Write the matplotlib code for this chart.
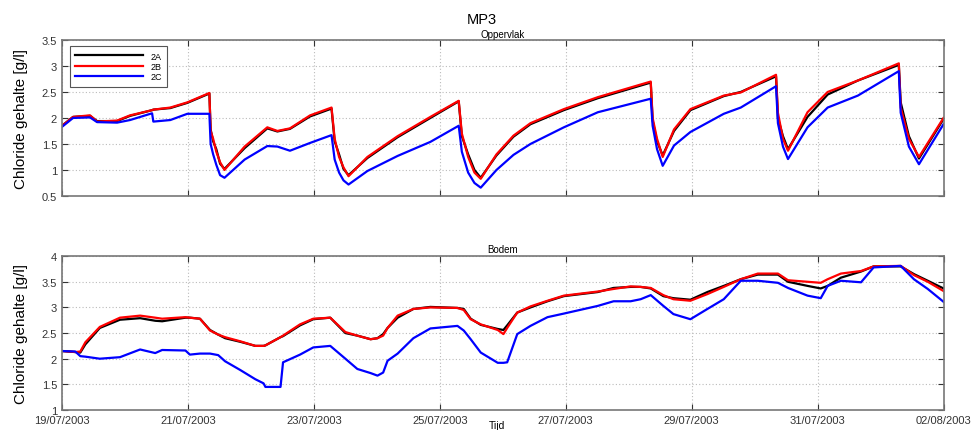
import matplotlib
matplotlib.use("Agg")
import matplotlib.pyplot as plt
import matplotlib.dates as mdates
import numpy as np
import pandas as pd

plt.rcParams['font.family'] = ['Liberation Sans', 'DejaVu Sans']

# ---- Oppervlak (surface) : days since 19/07/2003 00:00 ----
top_days = [0.00, 0.175, 0.445, 0.556, 0.874, 1.08, 1.43, 1.45, 1.72, 1.99,
            2.34, 2.36, 2.40, 2.45, 2.51, 2.58, 2.90, 3.26, 3.42, 3.62, 3.94,
            4.28, 4.33, 4.40, 4.47, 4.55, 4.85, 5.33, 5.85,
            6.30, 6.35, 6.45, 6.55, 6.65, 6.90, 7.17, 7.44, 7.97, 8.51,
            9.35, 9.38, 9.45, 9.54, 9.72, 9.98, 10.51, 10.78,
            11.34, 11.37, 11.45, 11.53, 11.84, 12.16, 12.64,
            13.29, 13.32, 13.45, 13.61, 14.00]
top_2a = [1.85, 2.02, 2.04, 1.94, 1.94, 2.04, 2.15, 2.16, 2.19, 2.29,
          2.47, 1.78, 1.55, 1.40, 1.12, 1.02, 1.42, 1.80, 1.74, 1.79, 2.03,
          2.18, 1.55, 1.30, 1.02, 0.90, 1.23, 1.63, 2.00,
          2.32, 1.65, 1.30, 1.00, 0.85, 1.28, 1.64, 1.88, 2.15, 2.38,
          2.68, 1.95, 1.55, 1.28, 1.75, 2.15, 2.42, 2.50,
          2.80, 2.00, 1.65, 1.40, 2.02, 2.45, 2.72,
          3.02, 2.30, 1.65, 1.22, 1.98]
top_2b = [1.85, 2.02, 2.05, 1.93, 1.95, 2.05, 2.15, 2.16, 2.20, 2.30,
          2.48, 1.75, 1.60, 1.35, 1.15, 1.00, 1.45, 1.82, 1.75, 1.80, 2.05,
          2.20, 1.60, 1.25, 1.05, 0.88, 1.25, 1.65, 2.02,
          2.33, 1.70, 1.25, 0.95, 0.83, 1.30, 1.66, 1.90, 2.17, 2.40,
          2.70, 2.00, 1.60, 1.25, 1.78, 2.17, 2.43, 2.49,
          2.83, 2.10, 1.60, 1.37, 2.11, 2.50, 2.72,
          3.05, 2.20, 1.60, 1.25, 2.00]
top_2c = [1.83, 2.00, 2.01, 1.92, 1.91, 1.96, 2.09, 1.93, 1.96, 2.08,
          2.08, 1.50, 1.30, 1.10, 0.90, 0.85, 1.20, 1.46, 1.45, 1.37, 1.52,
          1.67, 1.20, 0.95, 0.80, 0.72, 0.98, 1.27, 1.54,
          1.85, 1.35, 0.95, 0.75, 0.66, 1.00, 1.29, 1.50, 1.82, 2.11,
          2.37, 1.85, 1.40, 1.08, 1.47, 1.73, 2.08, 2.20,
          2.61, 1.90, 1.45, 1.21, 1.82, 2.20, 2.43,
          2.90, 2.10, 1.45, 1.11, 1.88]

# ---- Bodem (bottom) ----
bot_days = [0.00, 0.21, 0.29, 0.37, 0.60, 0.92, 1.24, 1.48, 1.59, 1.96,
            2.03, 2.19, 2.35, 2.48, 2.59, 2.83, 3.07, 3.20, 3.23, 3.47,
            3.51, 3.78, 3.99, 4.26, 4.50, 4.69, 4.90, 5.01, 5.10, 5.17,
            5.33, 5.58, 5.85, 6.28, 6.38, 6.49, 6.65, 6.92, 7.01, 7.07,
            7.23, 7.44, 7.71, 7.97, 8.51, 8.76, 9.03, 9.19, 9.35, 9.55,
            9.71, 9.98, 10.25, 10.51, 10.78, 11.05, 11.37, 11.53, 11.84, 12.05,
            12.16, 12.37, 12.69, 12.89, 13.32, 13.53, 13.75, 14.00]
bot_2a = [2.15, 2.13, 2.12, 2.28, 2.60, 2.76, 2.79, 2.74, 2.73, 2.80,
          2.80, 2.78, 2.56, 2.47, 2.40, 2.33, 2.25, 2.25, 2.26, 2.42,
          2.44, 2.65, 2.77, 2.80, 2.50, 2.45, 2.38, 2.40, 2.48, 2.60,
          2.80, 2.97, 3.01, 2.99, 2.97, 2.78, 2.66, 2.58, 2.56, 2.65,
          2.90, 3.00, 3.12, 3.22, 3.30, 3.38, 3.40, 3.40, 3.37, 3.22,
          3.18, 3.15, 3.30, 3.42, 3.55, 3.64, 3.64, 3.50, 3.42, 3.37,
          3.42, 3.58, 3.70, 3.80, 3.80, 3.65, 3.52, 3.37]
bot_2b = [2.15, 2.13, 2.14, 2.32, 2.62, 2.80, 2.84, 2.80, 2.78, 2.81,
          2.80, 2.78, 2.55, 2.47, 2.42, 2.34, 2.25, 2.25, 2.26, 2.42,
          2.45, 2.67, 2.78, 2.80, 2.52, 2.45, 2.38, 2.40, 2.45, 2.60,
          2.84, 2.97, 3.00, 2.99, 2.95, 2.77, 2.67, 2.56, 2.48, 2.60,
          2.90, 3.02, 3.13, 3.23, 3.31, 3.36, 3.41, 3.40, 3.38, 3.24,
          3.16, 3.13, 3.26, 3.40, 3.55, 3.66, 3.66, 3.53, 3.50, 3.48,
          3.55, 3.66, 3.71, 3.80, 3.81, 3.63, 3.50, 3.32]
bot_2c = [2.15, 2.14, 2.05, 2.04, 2.00, 2.03, 2.18, 2.11, 2.17, 2.16,
          2.08, 2.10, 2.10, 2.07, 1.95, 1.78, 1.60, 1.52, 1.45, 1.45,
          1.93, 2.08, 2.22, 2.25, 2.00, 1.80, 1.72, 1.67, 1.73, 1.96,
          2.10, 2.40, 2.59, 2.64, 2.55, 2.38, 2.12, 1.92, 1.92, 1.93,
          2.48, 2.64, 2.81, 2.88, 3.03, 3.12, 3.12, 3.16, 3.24, 3.03,
          2.87, 2.77, 2.97, 3.16, 3.52, 3.52, 3.48, 3.38, 3.23, 3.18,
          3.42, 3.52, 3.49, 3.78, 3.81, 3.55, 3.36, 3.11]

series_names = ["2A", "2B", "2C"]
series_colors = ["black", "#ff0000", "#0000ff"]

start = pd.Timestamp("2003-07-19")
end = pd.Timestamp("2003-08-02")


def to_time(days):
    return start + pd.to_timedelta(np.asarray(days), unit="D")


fig = plt.figure(figsize=(9.74, 4.31), dpi=100)
ax_top = fig.add_axes([0.0637, 0.543, 0.905, 0.362])
ax_bot = fig.add_axes([0.0637, 0.0464, 0.905, 0.357])

tick_color = "#333333"
spine_color = "#777777"


def style(ax, ylim, yticks, yticklabels):
    ax.set_xlim(start, end)
    ax.set_ylim(*ylim)
    ax.set_yticks(yticks)
    ax.set_yticklabels(yticklabels)
    ax.xaxis.set_major_locator(mdates.DayLocator(interval=2))
    ax.xaxis.set_major_formatter(mdates.DateFormatter("%d/%m/%Y"))
    ax.grid(True, linestyle=(0, (1, 2)), color="#bbbbbb", linewidth=0.8)
    ax.tick_params(direction="in", top=True, right=True, length=4,
                   labelsize=8, colors=tick_color, width=0.8)
    for s in ax.spines.values():
        s.set_color(spine_color)
        s.set_linewidth(1.2)
    ax.set_ylabel("Chloride gehalte [g/l]", fontsize=11, color="black",
                  labelpad=10)


top_data = [top_2a, top_2b, top_2c]
bot_data = [bot_2a, bot_2b, bot_2c]

t_top = to_time(top_days)
t_bot = to_time(bot_days)
for name, col, vals in zip(series_names, series_colors, top_data):
    ax_top.plot(t_top, vals, color=col, linewidth=1.6, label=name)
for name, col, vals in zip(series_names, series_colors, bot_data):
    ax_bot.plot(t_bot, vals, color=col, linewidth=1.6, label=name)

style(ax_top, (0.5, 3.5), [0.5, 1, 1.5, 2, 2.5, 3, 3.5],
      ["0.5", "1", "1.5", "2", "2.5", "3", "3.5"])
ax_top.tick_params(labelbottom=False)
style(ax_bot, (1, 4), [1, 1.5, 2, 2.5, 3, 3.5, 4],
      ["1", "1.5", "2", "2.5", "3", "3.5", "4"])

ax_top.set_title("Oppervlak", fontsize=7, pad=2)
ax_bot.set_title("Bodem", fontsize=7, pad=3)
fig.text(0.51, 0.001, "Tijd", ha="center", va="bottom", fontsize=7.5)
fig.text(0.495, 0.953, "MP3", ha="center", va="center", fontsize=10.5)

leg = ax_top.legend(loc="upper left", bbox_to_anchor=(0.009, 0.96),
                    borderaxespad=0,
                    fontsize=6.5, handlelength=7.5, handletextpad=0.8,
                    labelspacing=0.15, borderpad=0.6, fancybox=False,
                    framealpha=1, edgecolor="#555555")
leg.get_frame().set_linewidth(0.8)

fig.savefig("out.png", dpi=100)
